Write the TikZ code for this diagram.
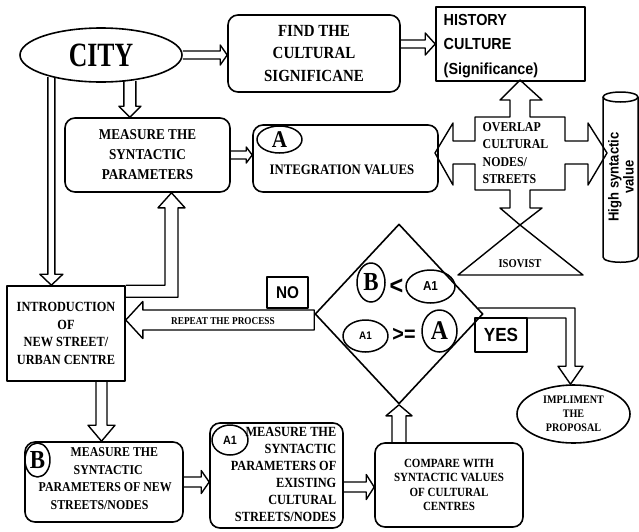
\documentclass[tikz,border=0pt]{standalone}
\usepackage{fontspec}
\usepackage{graphicx}
\setmainfont{Liberation Serif}
\newfontfamily\serc[FakeStretch=0.88]{Liberation Serif}
\newfontfamily\sansc[FakeStretch=0.9]{Liberation Sans}
\usetikzlibrary{shapes.geometric,calc}
\newcommand\myfs[2]{\fontsize{#1}{#2}\selectfont}
\tikzset{
  blk/.style args={#1/#2/#3}{to path={
    let \p1=(\tikztostart), \p2=(\tikztotarget), \p3=($(\p2)!#3!(\p1)$) in
    ($(\p1)!#1!90:(\p2)$) -- ($(\p3)!#1!90:(\p2)$) -- ($(\p3)!#2!90:(\p2)$) -- (\p2)
    -- ($(\p3)!#2!-90:(\p2)$) -- ($(\p3)!#1!-90:(\p2)$) -- ($(\p1)!#1!-90:(\p2)$)}},
  blkc/.style args={#1/#2/#3}{to path={
    let \p1=(\tikztostart), \p2=(\tikztotarget), \p3=($(\p2)!#3!(\p1)$) in
    ($(\p1)!#1!90:(\p2)$) -- ($(\p3)!#1!90:(\p2)$) -- ($(\p3)!#2!90:(\p2)$) -- (\p2)
    -- ($(\p3)!#2!-90:(\p2)$) -- ($(\p3)!#1!-90:(\p2)$) -- ($(\p1)!#1!-90:(\p2)$) -- cycle}},
  rbox/.style={draw, rounded corners=10pt, line width=1.6pt, inner sep=0pt, align=center},
  sbox/.style={draw, line width=1.6pt, inner sep=0pt, align=center},
  circ/.style={ellipse, draw, line width=1.5pt, inner sep=0pt},
  txt/.style={inner sep=0pt, align=center},
  serb/.style={font=\serc\bfseries\myfs{#1}{#1}},
  sanb/.style={font=\sansc\bfseries\myfs{#1}{#1}}
}
\begin{document}
\begin{tikzpicture}[x=1pt,y=-1pt,line width=1.4pt,line join=round]
\useasboundingbox (0,0) rectangle (639,531);
% ---------- nodes ----------
\node[ellipse,draw,line width=1.6pt,minimum width=162pt,minimum height=54pt,inner sep=0pt] (city) at (101,55)
  {\serc\bfseries\myfs{34}{34}\scalebox{0.86}[1]{CITY}};
\node[rbox,minimum width=172pt,minimum height=77pt,font=\serc\bfseries\myfs{17}{22.5}] (find) at (314,53.5)
  {FIND THE\\CULTURAL\\SIGNIFICANE};
\node[sbox,minimum width=149pt,minimum height=74pt] (hist) at (510.5,44) {};
\node[anchor=west,align=left,inner sep=0pt,font=\sansc\bfseries\myfs{16}{24.5}] (histt) at (443,46)
  {HISTORY\\CULTURE\\(Significance)};
\node[rbox,minimum width=165pt,minimum height=74pt,font=\serc\bfseries\myfs{15}{20}] (meas) at (147.5,155)
  {MEASURE THE\\SYNTACTIC\\PARAMETERS};
\node[rbox,minimum width=185pt,minimum height=67pt] (integ) at (345.5,158.5) {};
\node[circ,minimum width=45pt,minimum height=27pt,serb=24] (aint) at (279.5,139.5) {A};
\node[txt,serb=14.5] (integt) at (342,170) {INTEGRATION VALUES};
% overlap cross
\draw (520,80) -- (542,100) -- (530,100) -- (530,117) -- (565,117) -- (565,141) -- (588,141)
  -- (588,123) -- (607,153) -- (588,185) -- (588,164) -- (565,164) -- (565,190) -- (530,190)
  -- (530,208) -- (542,208) -- (520,225) -- (500,208) -- (510,208) -- (510,190) -- (475,190)
  -- (475,164) -- (453,164) -- (453,185) -- (435,153) -- (453,123) -- (453,141) -- (475,141)
  -- (475,117) -- (510,117) -- (510,100) -- (500,100) -- cycle;
\node[anchor=west,align=left,inner sep=0pt,font=\serc\bfseries\myfs{13.5}{17.5}] (ovl) at (482,153)
  {OVERLAP\\CULTURAL\\NODES/\\STREETS};
% isovist
\draw (520,225) -- (583,275) -- (458,275) -- cycle;
\node[txt,serb=12] (iso) at (520,264) {ISOVIST};
% cylinder
\draw[line width=1.5pt] (603,97) -- (603,257) .. controls (603,264) and (638,264) .. (638,257) -- (638,97);
\draw[line width=1.5pt] (620.5,97) ellipse [x radius=17.5, y radius=5];
\node[txt,rotate=90,font=\sansc\bfseries\myfs{14.5}{15}] (cyl) at (621,177) {High syntactic\\value};
% decision diamond
\node[diamond,draw,line width=1.6pt,minimum width=168pt,minimum height=180pt,inner sep=0pt] (dia) at (399,314) {};
\node[circ,minimum width=28pt,minimum height=39pt,serb=26] (bd) at (371,282.5) {B};
\node[txt,sanb=26] (lt) at (396.5,287) {<};
\node[circ,minimum width=49pt,minimum height=33pt,sanb=13] (a1d) at (430.5,286.5) {A1};
\node[circ,minimum width=45pt,minimum height=32pt,sanb=11] (a1e) at (365.5,336) {A1};
\node[txt,sanb=22] (ge) at (404,335) {>=};
\node[circ,minimum width=35pt,minimum height=42pt,serb=27] (ad) at (439.5,331) {A};
\node[sbox,minimum width=41pt,minimum height=31pt,sanb=17] (no) at (287.5,292.5) {NO};
\node[sbox,minimum width=52pt,minimum height=34pt,sanb=19] (yes) at (501,335) {YES};
% introduction
\node[sbox,minimum width=118pt,minimum height=95pt,font=\serc\bfseries\myfs{14}{17.5}] (intro) at (66,333.5)
  {INTRODUCTION\\OF\\NEW STREET/\\URBAN CENTRE};
% B box
\node[rbox,minimum width=158pt,minimum height=80pt] (bbox) at (104,482) {};
\node[circ,minimum width=25pt,minimum height=34pt,serb=26] (bb) at (37.5,460) {B};
\node[anchor=west,align=left,inner sep=0pt,font=\serc\bfseries\myfs{13.5}{17.7}] (bt) at (38,478.5)
  {\hspace*{32pt}MEASURE THE\\\hspace*{35pt}SYNTACTIC\\PARAMETERS OF NEW\\\hspace*{12pt}STREETS/NODES};
% A1 box
\node[rbox,minimum width=133pt,minimum height=105pt] (a1box) at (276.5,475.5) {};
\node[circ,minimum width=36pt,minimum height=30pt,sanb=12] (a1c) at (230,440) {A1};
\node[anchor=east,align=right,inner sep=0pt,font=\serc\bfseries\myfs{14}{17}] (a1t) at (337,474.5)
  {MEASURE THE\\SYNTACTIC\hspace*{6pt}\\PARAMETERS OF\\EXISTING\hspace*{5pt}\\CULTURAL\hspace*{6pt}\\STREETS/NODES};
% compare
\node[rbox,minimum width=148pt,minimum height=84pt,font=\serc\bfseries\myfs{12.5}{14.5}] (cmp) at (449,485)
  {COMPARE WITH\\SYNTACTIC VALUES\\OF CULTURAL\\CENTRES};
% implement
\node[ellipse,draw,line width=1.6pt,minimum width=113pt,minimum height=58pt,inner sep=0pt,align=center,
  font=\serc\bfseries\myfs{11.5}{14}] (impl) at (573.5,414) {IMPLIMENT\\THE\\PROPOSAL};
% ---------- connectors ----------
\coordinate (fh) at ($(find.east)+(0,-9.5)$);
\coordinate (ib) at ($(intro.south)+(35.5,0)$);
\coordinate (ac) at ($(a1box.east)+(0,11.5)$);
\coordinate (rp) at ($(dia.west)+(0,6)$);
\coordinate (im) at ($(meas.south)+(24,0)$);
\coordinate (yt) at ($(impl.north)+(-3,0)$);
\draw (city.east) to[blk=4pt/10pt/7pt] (city.east -| find.west);
\draw (fh) to[blk=4pt/11pt/10pt] (fh -| hist.west);
\draw (city.-42) to[blk=6pt/11pt/11pt] (city.-42 |- meas.north);
\draw (city.204) to[blk=3.5pt/11.5pt/11pt] (city.204 |- intro.north);
\draw (meas.east) to[blk=4pt/8pt/6pt] (meas.east -| integ.west);
\draw (ib) to[blk=5.5pt/13.5pt/16pt] (ib |- bbox.north);
\draw (bbox.east) to[blk=5pt/11.5pt/8pt] (bbox.east -| a1box.west);
\draw (ac) to[blk=5pt/12.5pt/8pt] (ac -| cmp.west);
\draw (dia.south |- cmp.north) to[blk=7pt/13pt/11pt] (dia.south);
\draw (rp) to[blkc=10pt/18.5pt/17pt] (rp -| intro.east);
\node[txt,serb=10.5] (rpt) at (223,321) {REPEAT THE PROCESS};
% intro -> measure (elbow)
\draw (intro.north east) -| ($(im)+(-6.5,15)$) -- ++(-7,0) -- (im) -- ++(13.5,15) -- ++(-7,0)
  |- ($(intro.north east)+(0,12)$);
% yes -> implement (elbow)
\draw ($(dia.east)+(-5.6,-6)$) -| ($(yt)+(4.5,-18)$) -- ++(8,0) -- (yt) -- ($(yt)+(-12.5,-18)$) -- ++(8,0)
  |- ($(dia.east)+(-3.7,4)$);
\end{tikzpicture}
\end{document}
